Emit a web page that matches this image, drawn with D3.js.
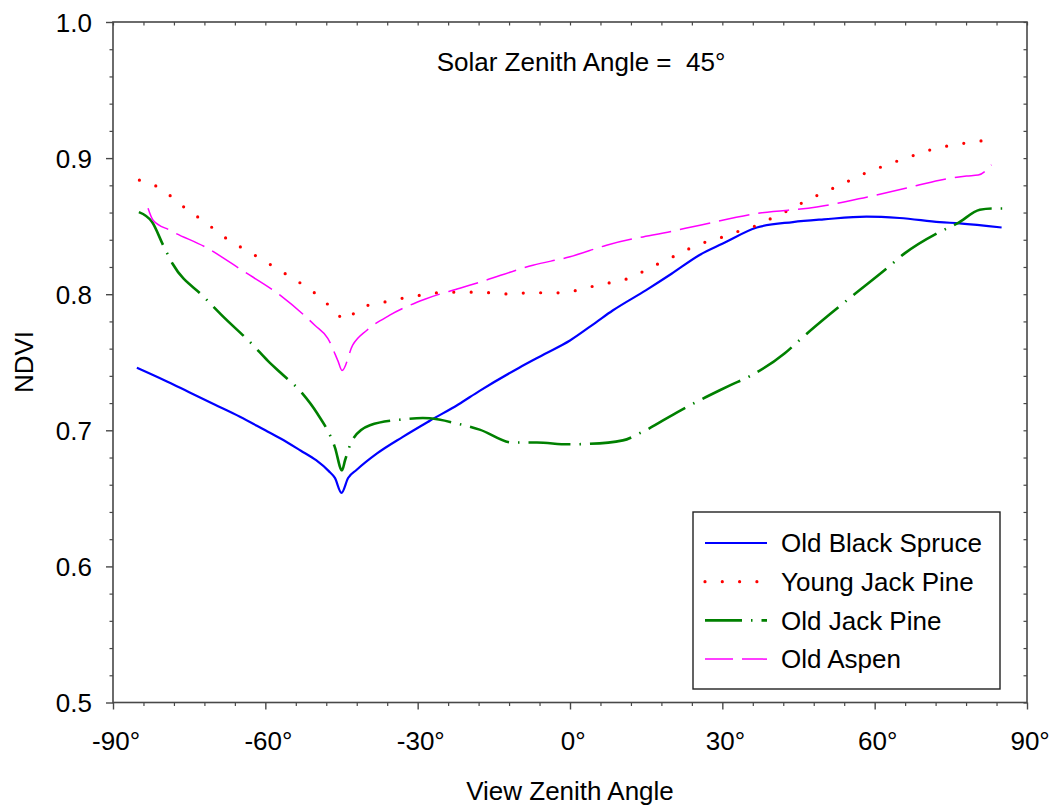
<!DOCTYPE html>
<html>
<head>
<meta charset="utf-8">
<script src="https://cdn.jsdelivr.net/npm/d3@7"></script>
<style>
  html, body { margin: 0; padding: 0; background: #fff; }
  svg text { font-family: "Liberation Sans", Arial, sans-serif; fill: #000; }
</style>
</head>
<body>
<svg id="chart" width="1050" height="810"></svg>
<script>
// View zenith angle (degrees) and NDVI for each stand, solar zenith 45°
const spruceAngle = [-85.3, -80, -75, -70, -65, -60, -57, -53, -50, -47.5, -46.3, -45, -43.7, -42, -38, -33, -27.6, -22, -17.8, -10, -5, 0, 5, 8.4, 15, 20, 25.6, 30, 36.8, 43.9, 50, 58.4, 64.9, 72.8, 76.7, 85];
const spruceNdvi  = [0.746, 0.737, 0.728, 0.719, 0.710, 0.700, 0.694, 0.685, 0.678, 0.670, 0.665, 0.654, 0.665, 0.671, 0.683, 0.695, 0.707, 0.719, 0.729, 0.746, 0.756, 0.766, 0.779, 0.788, 0.803, 0.815, 0.829, 0.837, 0.849, 0.853, 0.855, 0.857, 0.856, 0.853, 0.852, 0.849];

const youngPineAngle = [-84.8, -81.5, -78.2, -75.2, -71.8, -68.7, -65.5, -62.2, -58.8, -55.4, -52.1, -48.9, -45.9, -44.3, -41.4, -38, -34.9, -31.5, -28, -24.6, -21.3, -18.1, -14.6, -11.3, -7.9, -4.6, -1.2, 2.1, 5.5, 8.6, 12.2, 15.5, 18.9, 22.2, 25.4, 28.9, 32.0, 35.4, 38.9, 42.3, 45.6, 48.8, 52.3, 55.7, 59.0, 62.4, 65.5, 69.1, 72.2, 75.7, 79.1, 82.4];
const youngPineNdvi  = [0.8838, 0.8794, 0.8708, 0.8615, 0.8529, 0.8436, 0.8360, 0.8289, 0.8213, 0.8135, 0.8057, 0.7968, 0.7858, 0.7809, 0.7900, 0.7930, 0.7956, 0.7980, 0.8000, 0.8015, 0.8015, 0.8015, 0.8007, 0.8000, 0.8012, 0.8010, 0.8010, 0.8037, 0.8066, 0.8090, 0.8125, 0.8190, 0.8250, 0.8310, 0.8368, 0.8404, 0.8449, 0.8485, 0.8544, 0.8603, 0.8669, 0.8728, 0.8787, 0.8846, 0.8904, 0.8949, 0.8993, 0.9037, 0.9074, 0.9096, 0.9118, 0.9132];

const oldPineAngle = [-84.9, -82.3, -80, -78.2, -72.1, -68.7, -62.4, -59.5, -57.1, -52.8, -49.8, -46.3, -44.9, -44.3, -42.9, -39.4, -32.9, -29, -27.6, -22.3, -17.8, -11.3, -6.5, -0.4, 3.5, 10.4, 14.1, 21, 25, 29.5, 31.5, 35.4, 42.3, 45.6, 51.1, 55.7, 62.4, 65.9, 72.4, 76.3, 80.7, 83.2, 85.2];
const oldPineNdvi  = [0.8603, 0.853, 0.835, 0.822, 0.798, 0.785, 0.7625, 0.751, 0.7426, 0.7275, 0.7125, 0.6875, 0.6706, 0.678, 0.6926, 0.7037, 0.708, 0.709, 0.7088, 0.705, 0.7005, 0.691, 0.691, 0.6897, 0.690, 0.6926, 0.6985, 0.713, 0.721, 0.7294, 0.733, 0.7397, 0.7566, 0.7676, 0.785, 0.799, 0.819, 0.830, 0.845, 0.852, 0.862, 0.863, 0.863];

const aspenAngle = [-83.1, -82.1, -78.8, -71.5, -64.6, -57.1, -50.2, -47.7, -45.7, -44.9, -42.8, -40, -35.5, -28.6, -21.7, -17.8, -7.3, 0, 7.2, 21, 25.6, 37.4, 48.6, 58.4, 66.3, 72.8, 78.1, 80.4, 83];
const aspenNdvi  = [0.8632, 0.8544, 0.847, 0.834, 0.8176, 0.7993, 0.777, 0.7676, 0.751, 0.744, 0.7625, 0.7735, 0.7846, 0.7963, 0.8044, 0.8088, 0.8213, 0.8275, 0.836, 0.847, 0.8507, 0.8596, 0.864, 0.8713, 0.878, 0.8838, 0.8868, 0.8875, 0.895];

const seriesNames = ["Old Black Spruce", "Young Jack Pine", "Old Jack Pine", "Old Aspen"];
const xTickValues = [-90, -60, -30, 0, 30, 60, 90];
const yTickValues = [0.5, 0.6, 0.7, 0.8, 0.9, 1.0];

const svg = d3.select("#chart");
const plotLeft = 113, plotRight = 1027, plotTop = 22, plotBottom = 702.5;

const x = d3.scaleLinear().domain([-90, 90]).range([plotLeft, plotRight]);
const y = d3.scaleLinear().domain([0.5, 1.0]).range([plotBottom, plotTop]);

const axisColor = "#484848";
const fontSize = 26;

// minor tick positions
const xMinor = d3.range(-90, 90.001, 6).filter(v => !xTickValues.includes(Math.round(v)));
const yMinor = d3.range(0.5, 1.0001, 0.02).map(v => +v.toFixed(2)).filter(v => !yTickValues.some(t => Math.abs(t - v) < 1e-6));

// frame
svg.append("rect").attr("x", plotLeft).attr("y", plotTop)
  .attr("width", plotRight - plotLeft).attr("height", plotBottom - plotTop)
  .attr("fill", "none").attr("stroke", axisColor).attr("stroke-width", 1.6);

// left axis (outward ticks) and labels
const yAxis = d3.axisLeft(y).tickValues(yTickValues).tickSize(7).tickFormat(d3.format(".1f"));
const gy = svg.append("g").attr("transform", `translate(${plotLeft},0)`).call(yAxis);
gy.select(".domain").remove();
gy.selectAll(".tick line").attr("stroke", axisColor).attr("stroke-width", 1.4);
gy.selectAll(".tick text").attr("font-size", fontSize).attr("x", -21).attr("dy", "0.36em");
const gyMinor = svg.append("g").attr("transform", `translate(${plotLeft},0)`).call(d3.axisLeft(y).tickValues(yMinor).tickSize(3.5).tickFormat(""));
gyMinor.select(".domain").remove();
gyMinor.selectAll(".tick line").attr("stroke", axisColor).attr("stroke-width", 1.2);

// bottom axis (outward ticks) and labels
const xAxis = d3.axisBottom(x).tickValues(xTickValues).tickSize(7).tickFormat(d => d + "°");
const gx = svg.append("g").attr("transform", `translate(0,${plotBottom})`).call(xAxis);
gx.select(".domain").remove();
gx.selectAll(".tick line").attr("stroke", axisColor).attr("stroke-width", 1.4);
gx.selectAll(".tick text").attr("font-size", fontSize).attr("y", 29).attr("dy", "0.71em").attr("dx", "0.1em");
const gxMinor = svg.append("g").attr("transform", `translate(0,${plotBottom})`).call(d3.axisBottom(x).tickValues(xMinor).tickSize(3.5).tickFormat(""));
gxMinor.select(".domain").remove();
gxMinor.selectAll(".tick line").attr("stroke", axisColor).attr("stroke-width", 1.2);

// mirrored inward ticks on top and right
const gTop = svg.append("g").attr("transform", `translate(0,${plotTop})`)
  .call(d3.axisBottom(x).tickValues(d3.range(-90, 90.001, 6)).tickSize(3.5).tickFormat(""));
gTop.select(".domain").remove();
gTop.selectAll(".tick line").attr("stroke", axisColor).attr("stroke-width", 1.2);
const gRight = svg.append("g").attr("transform", `translate(${plotRight},0)`)
  .call(d3.axisLeft(y).tickValues(d3.range(0.5, 1.0001, 0.02)).tickSize(3.5).tickFormat(""));
gRight.select(".domain").remove();
gRight.selectAll(".tick line").attr("stroke", axisColor).attr("stroke-width", 1.2);

// axis titles and annotation
svg.append("text").attr("x", 570).attr("y", 800).attr("text-anchor", "middle")
  .attr("font-size", fontSize).text("View Zenith Angle");
svg.append("text").attr("transform", "translate(33,362) rotate(-90)").attr("text-anchor", "middle")
  .attr("font-size", fontSize).text("NDVI");
svg.append("text").attr("x", 581).attr("y", 71).attr("text-anchor", "middle")
  .attr("font-size", fontSize).style("white-space", "pre")
  .text("Solar Zenith Angle =  45°");

// series
const styles = [
  { color: "#0000ff", width: 2.2, dash: null, cap: "butt" },
  { color: "#ff0000", width: 3.2, dash: "0 17.4", cap: "round" },
  { color: "#008000", width: 2.6, dash: "42 9 1.5 9", cap: "butt" },
  { color: "#ff00ff", width: 1.5, dash: "31 9", cap: "butt" }
];
const series = [
  d3.zip(spruceAngle, spruceNdvi),
  d3.zip(youngPineAngle, youngPineNdvi),
  d3.zip(oldPineAngle, oldPineNdvi),
  d3.zip(aspenAngle, aspenNdvi)
];

const line = d3.line().x(d => x(d[0])).y(d => y(d[1])).curve(d3.curveMonotoneX);
const plot = svg.append("g");
series.forEach((pts, i) => {
  const s = styles[i];
  plot.append("path").datum(pts)
    .attr("d", line)
    .attr("fill", "none")
    .attr("stroke", s.color)
    .attr("stroke-width", s.width)
    .attr("stroke-linecap", s.cap)
    .attr("stroke-linejoin", "round")
    .attr("stroke-dasharray", s.dash);
});

// legend
const lg = svg.append("g");
lg.append("rect").attr("x", 693).attr("y", 512).attr("width", 307).attr("height", 177)
  .attr("fill", "#fff").attr("stroke", "#222").attr("stroke-width", 1.4);
const legendDash = ["", "0 17.3", "37 9 1.5 9", "28 9"];
seriesNames.forEach((name, i) => {
  const s = styles[i];
  const ry = 543 + i * 38.7;
  lg.append("line").attr("x1", 705).attr("x2", 767).attr("y1", ry).attr("y2", ry)
    .attr("stroke", s.color).attr("stroke-width", s.width)
    .attr("stroke-linecap", s.cap)
    .attr("stroke-dasharray", legendDash[i] || null);
  lg.append("text").attr("x", 781).attr("y", ry).attr("dy", "0.36em")
    .attr("font-size", fontSize).text(name);
});
</script>
</body>
</html>
